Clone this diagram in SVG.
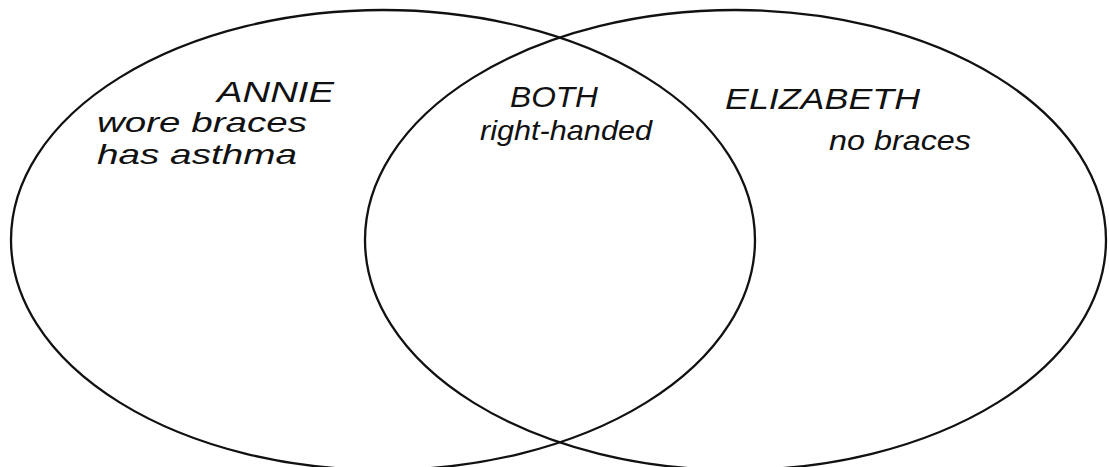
<svg xmlns="http://www.w3.org/2000/svg" width="1109" height="467" viewBox="0 0 1109 467">
<style>
.set{fill:none;stroke:#111;stroke-width:2.3}
.t{font-family:"Liberation Sans",Arial,sans-serif;font-style:italic;fill:#111;font-size:28px}
.h{font-size:30px;font-style:italic}
</style>
<rect width="1109" height="467" fill="#fff"/>
<g id="annie">
<ellipse class="set" cx="383" cy="240" rx="372" ry="230"/>
<text class="t h" x="217" y="102" textLength="117" lengthAdjust="spacingAndGlyphs">ANNIE</text>
<text class="t" x="97" y="132" textLength="210" lengthAdjust="spacingAndGlyphs">wore braces</text>
<text class="t" x="97" y="164" textLength="200" lengthAdjust="spacingAndGlyphs">has asthma</text>
</g>
<g id="elizabeth">
<ellipse class="set" cx="735.5" cy="240" rx="370.5" ry="230"/>
<text class="t h" x="725" y="109" textLength="195" lengthAdjust="spacingAndGlyphs">ELIZABETH</text>
<text class="t" x="829" y="150" textLength="142" lengthAdjust="spacingAndGlyphs">no braces</text>
</g>
<g id="both">
<text class="t h" x="510" y="107" textLength="88" lengthAdjust="spacingAndGlyphs">BOTH</text>
<text class="t" x="480" y="140" textLength="172" lengthAdjust="spacingAndGlyphs">right-handed</text>
</g>
<g id="connectors"></g>
</svg>
